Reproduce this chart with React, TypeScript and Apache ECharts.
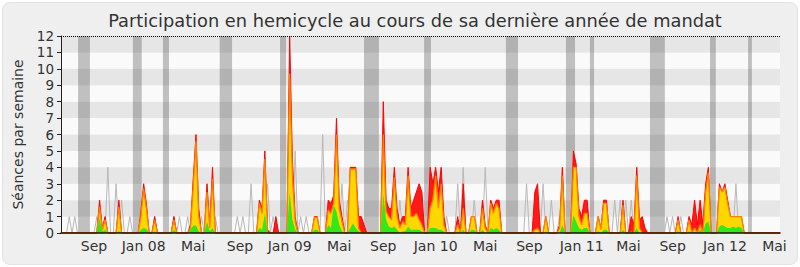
import React, { useEffect, useRef } from "react";
import * as echarts from "echarts";

// Weekly values (week 0 = week of 18 June 2007), 262 weeks
const presence = [
  0,0,0,0,0,0,0,0,0,0,
  0,0,0,0,2,0.3,1,0,0,0,
  0,2,0,0,0,0,0,0,0,1.3,
  3,1.8,0,0,1,0,0,0,0,0,
  0,1,0,0,0,0,0,0.5,3.3,6,
  1.5,0,0,3,0.5,4,0,0,0,0,
  0,0,0,0,0,0,0,0,0,0,
  0,0,2,1.5,5,0.2,0,0,1,0,
  0,0,0,12,4.5,1,0,0,0,0,
  0,0,1,1,0,0,0,2,1.8,2.3,
  7,2,1,0,0,4,4,4,1,1,
  0.5,0,0,0,0,0,0,8,2,1.5,
  1.5,4,1.5,0.5,1,1,4,1.5,2,2.5,
  3,2.5,0,0,4,3,4,2.5,4,1,
  0,0,0,0,1,0,3,0,0,1,
  1,0,0,2,0.5,0,2,1.5,2,2,
  0,0,0,0,0,0,0,0,0,0,
  0,0,2.5,3,0,0,1,0,0,0,
  0,0.5,4,0,0,0,5,4.2,1.5,1,
  2,2,0,0,0,1,0.3,2,2,0,
  0,0,0,0,2,0,0,1,0.5,4,
  0.8,1,0.3,0,0,0,0,0,0,0,
  0,0,0,0,1,0,0,0,1,0.5,
  2,0.5,2,0.5,3,4,0,0,0,3,
  2.5,3,2,1,1,1,1,1,0,0,
  0,0,0,0,0,0,0,0,0,0,
  0,0,
];

const interventions = [
  0,0,0,0,0,0,0,0,0,0,
  0,0,0,0,1.6,0.2,0.8,0,0,0,
  0,1.6,0,0,0,0,0,0,0,1,
  2.7,1.5,0,0,0.8,0,0,0,0,0,
  0,0.8,0,0,0,0,0,0.3,2.8,5.6,
  1,0,0,2.5,0.3,3.3,0,0,0,0,
  0,0,0,0,0,0,0,0,0,0,
  0,0,1.8,1.2,4.5,0,0,0,0,0,
  0,0,0,9.7,3.5,0.7,0,0,0,0,
  0,0,0.95,0.95,0,0,0,1.4,1.2,1.8,
  6,1.5,0.7,0,0,3.9,3.9,3.9,0.3,0,
  0,0,0,0,0,0,0,6,1.3,1,
  0.8,3.4,1,0.3,0.7,0.5,3.5,1,1,1.2,
  0.8,0.5,0,0,1.5,2,3.5,1.5,3,0.5,
  0,0,0,0,0.5,0,1.5,0,0,1,
  1,0,0,1.5,0.3,0,1.8,1.2,1.8,1.5,
  0,0,0,0,0,0,0,0,0,0,
  0,0,0.2,0.3,0,0,1,0,0,0,
  0,0.3,3.5,0,0,0,4,4,1,0.5,
  1.2,1.2,0,0,0,1,0.2,1.8,1.8,0,
  0,0,0,0,1.7,0,0,0,0,3.5,
  0.3,0,0,0,0,0,0,0,0,0,
  0,0,0,0,0.8,0,0,0,0.8,0,
  0.3,0,0.5,0,2.5,3.7,0,0,0,2.8,
  2.5,2.8,1.8,1,1,1,1,1,0,0,
  0,0,0,0,0,0,0,0,0,0,
  0,0,
];

const questions = [
  0,0,0,0,0,0,0,0,0,0,
  0,0,0,0,0.9,0.1,0.2,0,0,0,
  0,0.1,0,0,0,0,0,0,0,0.2,
  0.3,0.25,0,0,0.1,0,0,0,0,0,
  0,0.2,0,0,0,0,0,0.2,0.45,0.45,
  0.1,0,0,0.7,0.1,0.3,0,0,0,0,
  0,0,0,0,0,0,0,0,0,0,
  0,0,0.3,0.2,1.2,0,0,0,0,0,
  0,0,0,2.5,0.8,0.2,0,0,0,0,
  0,0,0.2,0.2,0,0,0,0.5,0.3,1.7,
  1.3,0.5,0.1,0,0,0.3,0.6,0.3,0.1,0,
  0,0,0,0,0,0,0,2.4,0.8,0.4,
  0.3,0.4,0.2,0,0.1,0.1,0.4,0.2,0.2,0.2,
  0.2,0.1,0,0,0.3,0.3,0.3,0.2,0.2,0.1,
  0,0,0,0,0.1,0,0.2,0,0,0.2,
  0.2,0,0,0.2,0,0,0.3,0.2,0.3,0.2,
  0,0,0,0,0,0,0,0,0,0,
  0,0,0,0,0,0,0.1,0,0,0,
  0,0,0.5,0,0,0,1.1,0.7,0.3,0.2,
  0.3,0.3,0,0,0,0.1,0,0.2,0.2,0,
  0,0,0,0,0.2,0,0,0.1,0,0.3,
  0,0,0,0,0,0,0,0,0,0,
  0,0,0,0,0.1,0,0,0,0.1,0,
  0.1,0,0.2,0,0.6,0.7,0,0,0,0.4,
  0.5,0.4,0.3,0.3,0.4,0.3,0.4,0.3,0,0,
  0,0,0,0,0,0,0,0,0,0,
  0,0,
];

const mediane = [
  0,0,0,1,0,1,0,0,0,0,
  0,0,0,1,0,0,0,4,0,0,
  3,0,2,0,0,1,0,0,0,0,
  0,1,0,0,1,0,0,0,0,0,
  0,1,0,1,0,0,1,0,0,0,
  0,1,0,0,1,0,1,0,0,0,
  0,0,0,0,1,0,1,0,0,3,
  0,0,1,0,0,3,0,1,0,0,
  0,0,0,0,0,5,0,1,0,1,
  0,0,0,0,0,6,0,0,1,0,
  0,0,3,0,2,0,0,0,0,0,
  0,0,0,0,0,0,0,0,0,1,
  0,2,0,2,0,0,0,2,0,1,
  0,0,0,0,0,0,0,0,0,0,
  1,0,0,0,3,0,4,0,0,0,
  2,0,0,0,4,0,0,0,0,0,
  0,0,0,0,0,0,0,0,0,3,
  0,0,0,0,0,3,0,0,2,0,
  0,1,0,0,0,0,0,0,0,0,
  0,0,0,0,0,0,0,0,0,0,
  0,2,0,2,0,2,0,2,0,0,
  0,0,0,0,0,0,0,0,0,0,
  1,0,1,0,0,1,0,0,1,0,
  0,0,0,0,0,0,0,0,0,0,
  0,0,0,0,0,3,0,0,0,0,
  0,0,0,0,0,0,0,0,0,0,
  0,0,
];

// Parliamentary breaks, in weeks [start, end]
const vacances: [number, number][] = [
  [6.2, 10.5], [26.1, 29.3], [37.0, 39.2], [57.6, 62.1], [79.5, 81.7],
  [110.0, 115.4], [131.8, 134.3], [161.5, 165.9], [183.3, 186.6],
  [192.0, 193.5], [213.8, 219.2], [235.6, 237.7], [249.4, 250.8],
];

const tickWeeks = [12, 30, 48, 65, 83, 101, 117, 136, 154, 170, 189, 206, 222, 241, 259];
const tickLabels = ["Sep", "Jan 08", "Mai", "Sep", "Jan 09", "Mai", "Sep", "Jan 10", "Mai", "Sep", "Jan 11", "Mai", "Sep", "Jan 12", "Mai"];

const TITLE = "Participation en hemicycle au cours de sa dernière année de mandat";
const FONT = "DejaVu Sans";

export default function App() {
  const ref = useRef<HTMLDivElement>(null);
  useEffect(() => {
    if (!ref.current) return;
    const chart = echarts.init(ref.current, null, { renderer: "svg" });
    const labelMap: Record<number, string> = {};
    tickWeeks.forEach((w, k) => (labelMap[w] = tickLabels[k]));
    const toPairs = (arr: number[]) => arr.map((v, i) => [i, v]);
    chart.setOption({
      animation: false,
      graphic: [
        {
          type: "text",
          x: 415,
          y: 20,
          style: {
            text: TITLE,
            fontFamily: FONT,
            fontSize: 17.8,
            fill: "#333",
            textAlign: "center",
            textVerticalAlign: "middle",
          },
        },
      ],
      grid: { left: 61, right: 20, top: 36, bottom: 34 },
      xAxis: {
        type: "value",
        min: 0,
        max: 261,
        interval: 1,
        z: 10,
        axisLine: { show: true, onZero: false, lineStyle: { color: "#2a0a0a", width: 1.5 } },
        axisTick: { show: false },
        splitLine: { show: false },
        axisLabel: {
          formatter: (v: number) => labelMap[v] ?? "",
          margin: 6,
          fontFamily: FONT,
          fontSize: 14,
          color: "#333",
          hideOverlap: false,
        },
      },
      yAxis: {
        type: "value",
        min: 0,
        max: 12,
        interval: 1,
        name: "Séances par semaine",
        nameLocation: "middle",
        nameGap: 36,
        nameTextStyle: { fontFamily: FONT, fontSize: 14, color: "#333" },
        axisLine: { show: true, lineStyle: { color: "#222" } },
        axisTick: { show: true, length: 4, lineStyle: { color: "#222" } },
        axisLabel: { margin: 7, fontFamily: FONT, fontSize: 13.5, color: "#333" },
        splitLine: { show: false },
        splitArea: { show: true, areaStyle: { color: ["#fafafa", "#e6e6e6"] } },
      },
      series: [
        {
          type: "line",
          data: toPairs(mediane),
          symbol: "none",
          lineStyle: { color: "#b8b8b8", width: 1 },
          z: 1,
          markArea: {
            silent: true,
            itemStyle: { color: "rgba(60,60,60,0.3)" },
            data: vacances.map(([a, b]) => [{ xAxis: a }, { xAxis: b }]),
          },
        },
        {
          type: "line",
          data: toPairs(presence),
          symbol: "none",
          lineStyle: { color: "#ff0000", width: 1 },
          areaStyle: { color: "#ff1a1a", opacity: 1 },
          z: 2,
          markLine: {
            silent: true,
            symbol: ["none", "none"],
            label: { show: false },
            lineStyle: { type: "dotted", color: "#000", width: 1 },
            data: [{ yAxis: 12 }],
          },
        },
        {
          type: "line",
          data: toPairs(interventions),
          symbol: "none",
          lineStyle: { color: "#ff7f00", width: 1.3 },
          areaStyle: { color: "#ffd700", opacity: 1 },
          z: 3,
        },
        {
          type: "line",
          data: toPairs(questions),
          symbol: "none",
          lineStyle: { width: 0 },
          areaStyle: { color: "#33e81a", opacity: 1 },
          z: 4,
        },
      ],
    });
    return () => chart.dispose();
  }, []);
  return (
    <div style={{ position: "fixed", left: 0, top: 0, width: 800, height: 267, background: "#ffffff" }}>
      <div
        style={{
          position: "absolute",
          left: 2,
          top: 2,
          width: 794,
          height: 261,
          background: "#efefef",
          borderRadius: 8,
          border: "1px solid #e3e3e3",
        }}
      />
      <div ref={ref} style={{ position: "absolute", left: 0, top: 0, width: 800, height: 267 }} />
    </div>
  );
}
